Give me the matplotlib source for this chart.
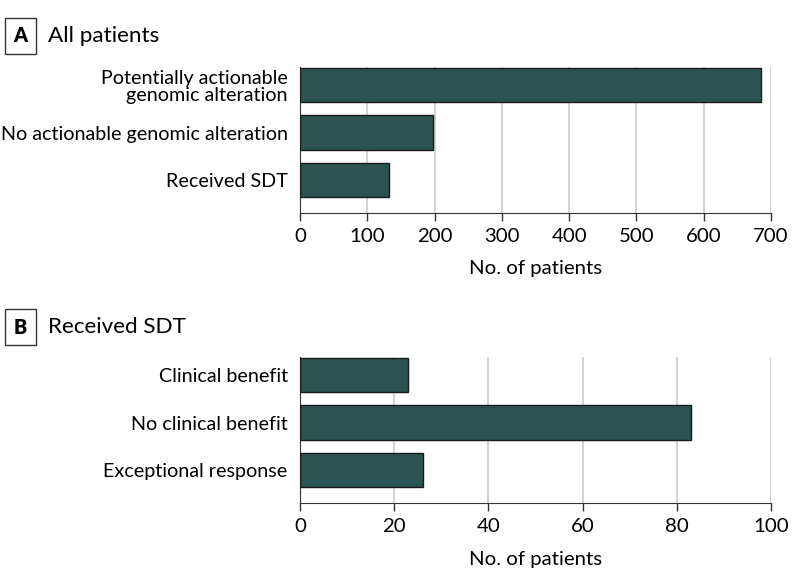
import matplotlib
matplotlib.use('Agg')
import matplotlib.pyplot as plt

plt.rcParams['font.family'] = 'Lato'

# Panel A: all patients
cats_a = ['Potentially actionable\ngenomic alteration',
          'No actionable genomic alteration',
          'Received SDT']
vals_a = [685, 198, 132]
ticks_a = [0, 100, 200, 300, 400, 500, 600, 700]

# Panel B: received SDT
cats_b = ['Clinical benefit', 'No clinical benefit', 'Exceptional response']
vals_b = [23, 83, 26]
ticks_b = [0, 20, 40, 60, 80, 100]

BAR = '#2b5352'
FS = 14.2

fig = plt.figure(figsize=(7.94, 5.88), dpi=100)
fig.patch.set_facecolor('white')


def draw_panel(rect, cats, vals, ticks, letter, title, title_y):
    ax = fig.add_axes(rect)
    ax.barh(range(len(cats)), vals, height=0.72, color=BAR,
            edgecolor='#1a1a1a', linewidth=1.0, zorder=3)
    ax.set_xlim(ticks[0], ticks[-1])
    ax.set_ylim(2.69, -0.38)
    ax.set_yticks(range(len(cats)))
    ax.set_yticklabels(cats, fontsize=FS, linespacing=1.0)
    ax.set_xticks(ticks)
    ax.tick_params(axis='x', labelsize=FS + 0.5, length=6, width=1.0,
                   color='#333333', pad=5)
    ax.tick_params(axis='y', length=0, pad=9)
    ax.grid(axis='x', color='#d3d3d3', linewidth=1.5, zorder=0)
    ax.set_axisbelow(True)
    for s in ['top', 'right']:
        ax.spines[s].set_visible(False)
    ax.spines['left'].set_color('#333333')
    ax.spines['bottom'].set_color('#333333')
    ax.set_xlabel('No. of patients', fontsize=FS + 0.5, labelpad=11)

    fig.text(0.0258, title_y, letter, fontsize=FS, fontweight='heavy',
             ha='center', va='center',
             bbox=dict(boxstyle='square,pad=0.45', facecolor='white',
                       edgecolor='#333333', linewidth=1.0))
    fig.text(0.061, title_y, title, fontsize=FS + 2, ha='left', va='center')
    return ax


draw_panel([0.378, 0.638, 0.593, 0.248], cats_a, vals_a, ticks_a,
           'A', 'All patients', 1 - 36 / 588)
draw_panel([0.378, 0.1446, 0.593, 0.2485], cats_b, vals_b, ticks_b,
           'B', 'Received SDT', 1 - 327 / 588)

plt.savefig('out.png', dpi=100, facecolor=fig.get_facecolor())
plt.close()
